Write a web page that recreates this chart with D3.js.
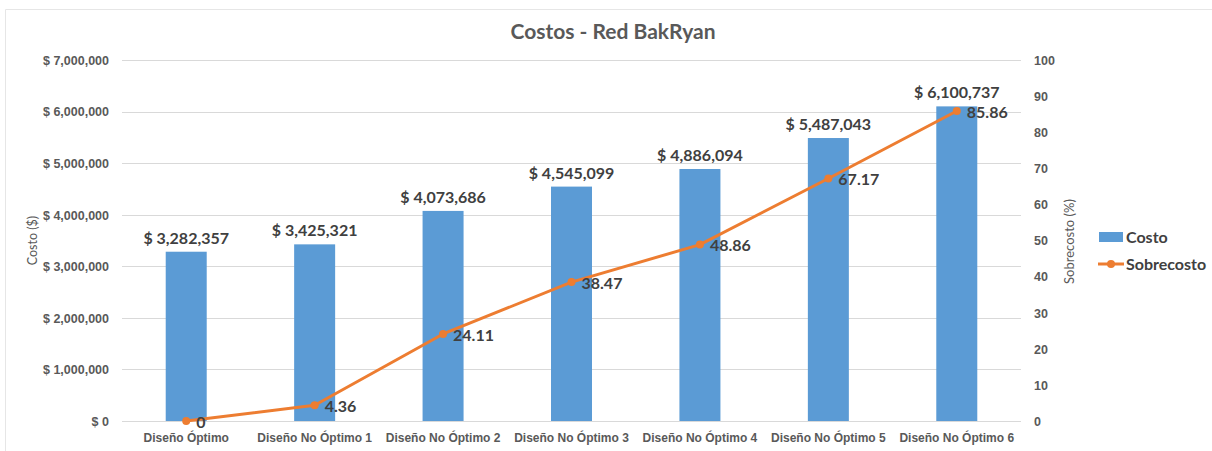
<!DOCTYPE html>
<html>
<head>
<meta charset="utf-8">
<script src="https://cdn.jsdelivr.net/npm/d3@7"></script>
<style>
  html, body { margin: 0; padding: 0; background: #fff; }
  svg { display: block; font-family: Lato, "Open Sans", sans-serif; }
</style>
</head>
<body>
<svg id="chart" width="1212" height="451"></svg>
<script>
// Chart data
const categories = ["Diseño Óptimo", "Diseño No Óptimo 1", "Diseño No Óptimo 2", "Diseño No Óptimo 3",
                    "Diseño No Óptimo 4", "Diseño No Óptimo 5", "Diseño No Óptimo 6"];
const costo = [3282357, 3425321, 4073686, 4545099, 4886094, 5487043, 6100737];
const sobrecosto = [0, 4.36, 24.11, 38.47, 48.86, 67.17, 85.86];
const costoTicks = [0, 1000000, 2000000, 3000000, 4000000, 5000000, 6000000, 7000000];
const sobrecostoTicks = [0, 10, 20, 30, 40, 50, 60, 70, 80, 90, 100];

const svg = d3.select("#chart");
const W = 1212, H = 451;
const plot = { left: 122, right: 1021, top: 60, bottom: 421 };

const barColor = "#5B9BD5", lineColor = "#ED7D31";
const tickColor = "#595959", labelColor = "#404040";
const money = v => "$ " + d3.format(",")(v);

// frame
svg.append("path")
  .attr("d", `M5.5,${H} V9.5 H${W}`)
  .attr("fill", "none").attr("stroke", "#e6e6e6").attr("stroke-width", 1);

const x = d3.scaleBand().domain(categories).range([plot.left, plot.right]).paddingInner(0).paddingOuter(0);
const yL = d3.scaleLinear().domain([0, 7000000]).range([plot.bottom, plot.top]);
const yR = d3.scaleLinear().domain([0, 100]).range([plot.bottom, plot.top]);

// gridlines
svg.append("g").selectAll("line").data(costoTicks).join("line")
  .attr("x1", plot.left).attr("x2", plot.right)
  .attr("y1", d => Math.round(yL(d)) + 0.5).attr("y2", d => Math.round(yL(d)) + 0.5)
  .attr("stroke", "#d9d9d9").attr("stroke-width", 1);

// left axis
const gL = svg.append("g").attr("transform", `translate(${plot.left - 13},0)`)
  .call(d3.axisLeft(yL).tickValues(costoTicks).tickFormat(money).tickSize(0).tickPadding(0));
gL.select(".domain").remove();
gL.selectAll("text").attr("fill", tickColor).style("font-size", "12.5px").style("font-weight", "600").attr("dy", "0.35em");

// right axis
const gR = svg.append("g").attr("transform", `translate(${plot.right + 13},0)`)
  .call(d3.axisRight(yR).tickValues(sobrecostoTicks).tickFormat(d3.format("d")).tickSize(0).tickPadding(0));
gR.select(".domain").remove();
gR.selectAll("text").attr("fill", tickColor).style("font-size", "12.5px").style("font-weight", "600").attr("dy", "0.35em");

// x axis labels
const gX = svg.append("g").attr("transform", `translate(0,${plot.bottom})`)
  .call(d3.axisBottom(x).tickSize(0).tickPadding(12));
gX.select(".domain").remove();
gX.selectAll("text").attr("fill", tickColor).style("font-size", "12px").style("font-weight", "bold");

// bars
const barW = 41;
svg.append("g").selectAll("rect").data(costo).join("rect")
  .attr("x", (d, i) => x(categories[i]) + x.bandwidth() / 2 - barW / 2)
  .attr("width", barW)
  .attr("y", d => yL(d))
  .attr("height", d => yL(0) - yL(d))
  .attr("fill", barColor);

// bar value labels
svg.append("g").selectAll("text").data(costo).join("text")
  .attr("x", (d, i) => x(categories[i]) + x.bandwidth() / 2)
  .attr("y", d => yL(d) - 8)
  .attr("text-anchor", "middle")
  .attr("fill", labelColor)
  .style("font-size", "16px").style("font-weight", "bold")
  .text(money);

// line
const pts = sobrecosto.map((v, i) => [x(categories[i]) + x.bandwidth() / 2, yR(v)]);
svg.append("path")
  .attr("d", d3.line()(pts))
  .attr("fill", "none").attr("stroke", lineColor).attr("stroke-width", 3)
  .attr("stroke-linejoin", "round");
svg.append("g").selectAll("circle").data(pts).join("circle")
  .attr("cx", d => d[0]).attr("cy", d => d[1]).attr("r", 4)
  .attr("fill", lineColor);

// line value labels
svg.append("g").selectAll("text").data(sobrecosto).join("text")
  .attr("x", (d, i) => pts[i][0] + 10)
  .attr("y", (d, i) => pts[i][1] + 1)
  .attr("dy", "0.35em")
  .attr("fill", labelColor)
  .style("font-size", "16px").style("font-weight", "bold")
  .text(d => d);

// title
svg.append("text")
  .attr("x", 613).attr("y", 39)
  .attr("text-anchor", "middle")
  .attr("fill", tickColor)
  .style("font-size", "21px").style("font-weight", "bold")
  .text("Costos - Red BakRyan");

// axis titles
svg.append("text")
  .attr("transform", `translate(37,${(plot.top + plot.bottom) / 2}) rotate(-90)`)
  .attr("text-anchor", "middle").attr("fill", tickColor)
  .style("font-size", "12.5px")
  .text("Costo ($)");
svg.append("text")
  .attr("transform", `translate(1074,${(plot.top + plot.bottom) / 2 + 1}) rotate(-90)`)
  .attr("text-anchor", "middle").attr("fill", tickColor)
  .style("font-size", "13px")
  .text("Sobrecosto (%)");

// legend
const lg = svg.append("g");
lg.append("rect").attr("x", 1099).attr("y", 232).attr("width", 24).attr("height", 10).attr("fill", barColor);
lg.append("text").attr("x", 1126).attr("y", 237).attr("dy", "0.35em")
  .attr("fill", labelColor).style("font-size", "16px").style("font-weight", "bold").text("Costo");
lg.append("line").attr("x1", 1098).attr("x2", 1124).attr("y1", 264).attr("y2", 264)
  .attr("stroke", lineColor).attr("stroke-width", 3);
lg.append("circle").attr("cx", 1111).attr("cy", 264).attr("r", 4).attr("fill", lineColor);
lg.append("text").attr("x", 1126).attr("y", 264).attr("dy", "0.35em")
  .attr("fill", labelColor).style("font-size", "16px").style("font-weight", "bold").text("Sobrecosto");
</script>
</body>
</html>
